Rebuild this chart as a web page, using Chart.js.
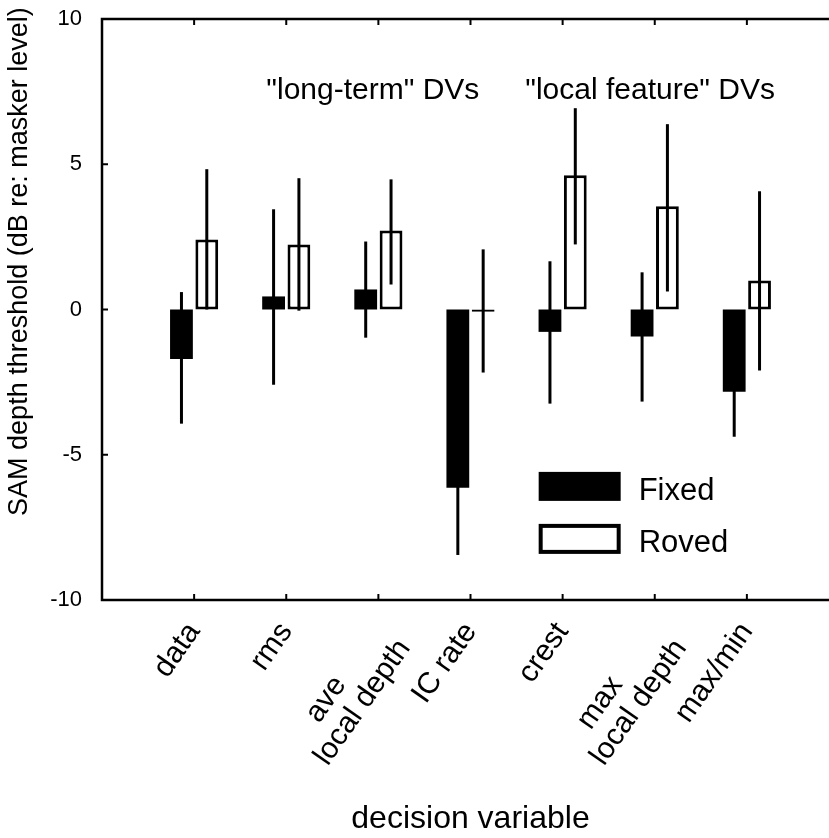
<!DOCTYPE html>
<html><head><meta charset="utf-8">
<script src="https://cdn.jsdelivr.net/npm/chart.js@4"></script>
<style>html,body{margin:0;padding:0;background:#fff;overflow:hidden}
#wrap{position:relative;width:845px;height:838px}</style>
</head><body><div id="wrap"><canvas id="c" width="845" height="838"></canvas></div>
<script>
// ---- data ----
const categories = ['data', 'rms', ['ave        ', 'local depth'], 'IC rate', 'crest', ['max        ', 'local depth'], 'max/min'];
const fixedValues  = [-1.70, 0.45, 0.69, -6.14, -0.77, -0.93, -2.83];
const fixedErrHigh = [0.60, 3.45, 2.34, -3.83, 1.66, 1.28, -1.28];
const fixedErrLow  = [-3.93, -2.59, -0.97, -8.45, -3.24, -3.17, -4.38];
const rovedValues  = [2.41, 2.24, 2.72, -0.08, 4.62, 3.55, 1.00];
const rovedErrHigh = [4.83, 4.52, 4.48, 2.07, 6.93, 6.38, 4.07];
const rovedErrLow  = [0.00, -0.04, 0.86, -2.17, 2.24, 0.62, -2.10];
const yTicks = [-10, -5, 0, 5, 10];
const seriesNames = ['Fixed', 'Roved'];
const groupNotes = ['"long-term" DVs', '"local feature" DVs'];

const FONT = "'Liberation Sans', Arial, Helvetica, sans-serif";
const labels = ['', ...categories, ''];
const pad = a => [null, ...a, null];
const errLow = [pad(fixedErrLow), pad(rovedErrLow)];
const errHigh = [pad(fixedErrHigh), pad(rovedErrHigh)];

const noPad = s => { s.paddingTop = 0; s.paddingBottom = 0; s.paddingLeft = 0; s.paddingRight = 0; };

const decor = {
  id: 'decor',
  afterDatasetsDraw(chart) {
    const ctx = chart.ctx, ys = chart.scales.y;
    ctx.save();
    ctx.strokeStyle = '#000';
    ctx.lineWidth = 3;
    ctx.lineCap = 'butt';
    for (let d = 0; d < 2; d++) {
      const meta = chart.getDatasetMeta(d);
      meta.data.forEach((el, j) => {
        if (errLow[d][j] == null) return;
        ctx.beginPath();
        ctx.moveTo(el.x, ys.getPixelForValue(errLow[d][j]));
        ctx.lineTo(el.x, ys.getPixelForValue(errHigh[d][j]));
        ctx.stroke();
      });
    }
    ctx.restore();
  },
  afterDraw(chart) {
    const ctx = chart.ctx, a = chart.chartArea, xs = chart.scales.x, ys = chart.scales.y;
    ctx.save();
    ctx.strokeStyle = '#000';
    ctx.lineWidth = 2.5;
    ctx.beginPath();
    ctx.moveTo(a.right, a.top); ctx.lineTo(a.left, a.top); ctx.lineTo(a.left, a.bottom); ctx.lineTo(a.right, a.bottom);
    ctx.stroke();
    ctx.lineWidth = 2;
    const tl = 6;
    yTicks.forEach(v => {
      const y = ys.getPixelForValue(v);
      ctx.beginPath(); ctx.moveTo(a.left, y); ctx.lineTo(a.left + tl, y); ctx.stroke();
    });
    for (let i = 1; i <= categories.length; i++) {
      const x = xs.getPixelForValue(i);
      ctx.beginPath(); ctx.moveTo(x, a.top); ctx.lineTo(x, a.top + tl); ctx.stroke();
      ctx.beginPath(); ctx.moveTo(x, a.bottom); ctx.lineTo(x, a.bottom - tl); ctx.stroke();
    }
    // group notes
    ctx.fillStyle = '#000';
    ctx.font = '30px ' + FONT;
    ctx.textAlign = 'center';
    ctx.textBaseline = 'alphabetic';
    ctx.fillText(groupNotes[0], xs.getPixelForValue(2.94), ys.getPixelForValue(7.24));
    ctx.fillText(groupNotes[1], xs.getPixelForValue(5.95), ys.getPixelForValue(7.24));
    // legend
    const lx = xs.getPixelForValue(4.74), lw = 82, lh = 29;
    const ly1 = ys.getPixelForValue(-5.59), ly2 = ys.getPixelForValue(-7.38);
    ctx.fillRect(lx, ly1, lw, lh);
    ctx.lineWidth = 4;
    ctx.strokeRect(lx + 2, ly2 + 2, lw - 4, lh + 1 - 4);
    ctx.font = '31px ' + FONT;
    ctx.textAlign = 'left';
    ctx.fillText(seriesNames[0], lx + 100, ly1 + 28);
    ctx.fillText(seriesNames[1], lx + 100, ly2 + 28);
    // y title
    ctx.save();
    ctx.translate(20, ys.getPixelForValue(1.65));
    ctx.rotate(-Math.PI / 2);
    ctx.font = '27px ' + FONT;
    ctx.textAlign = 'center';
    ctx.textBaseline = 'middle';
    ctx.fillText('SAM depth threshold (dB re: masker level)', 0, 0);
    ctx.restore();
    ctx.restore();
  }
};

new Chart(document.getElementById('c'), {
  type: 'bar',
  data: {
    labels,
    datasets: [
      { label: seriesNames[0], data: pad(fixedValues), backgroundColor: '#000', borderColor: '#000', borderWidth: 0,
        categoryPercentage: 0.55, barPercentage: 0.9 },
      { label: seriesNames[1], data: pad(rovedValues), backgroundColor: '#fff', borderColor: '#000', borderWidth: 3,
        borderSkipped: false, categoryPercentage: 0.55, barPercentage: 0.9 }
    ]
  },
  options: {
    responsive: false,
    devicePixelRatio: 1,
    animation: false,
    layout: { padding: { left: 0, right: 6, top: 19, bottom: 0 } },
    plugins: { legend: { display: false }, tooltip: { enabled: false } },
    scales: {
      x: {
        type: 'category', offset: false,
        grid: { display: false, drawTicks: false }, border: { display: false },
        ticks: { autoSkip: false, minRotation: 55, maxRotation: 55, padding: 16, color: '#000',
                 font: c => ({ family: FONT, size: 30,
                               lineHeight: Array.isArray(labels[c.index]) ? 1.05 : 1.2 }) },
        title: { display: true, text: 'decision variable', color: '#000', padding: 0,
                 font: { family: FONT, size: 32 } },
        afterFit: s => { s.height = 238; noPad(s); }
      },
      y: {
        min: -10, max: 10,
        grid: { display: false, drawTicks: false }, border: { display: false },
        afterBuildTicks: s => { s.ticks = yTicks.map(v => ({ value: v })); },
        ticks: { padding: 20, color: '#000', font: { family: FONT, size: 22 } },
        afterFit: s => { s.width = 102; noPad(s); }
      }
    }
  },
  plugins: [decor]
});
</script>
</body></html>
